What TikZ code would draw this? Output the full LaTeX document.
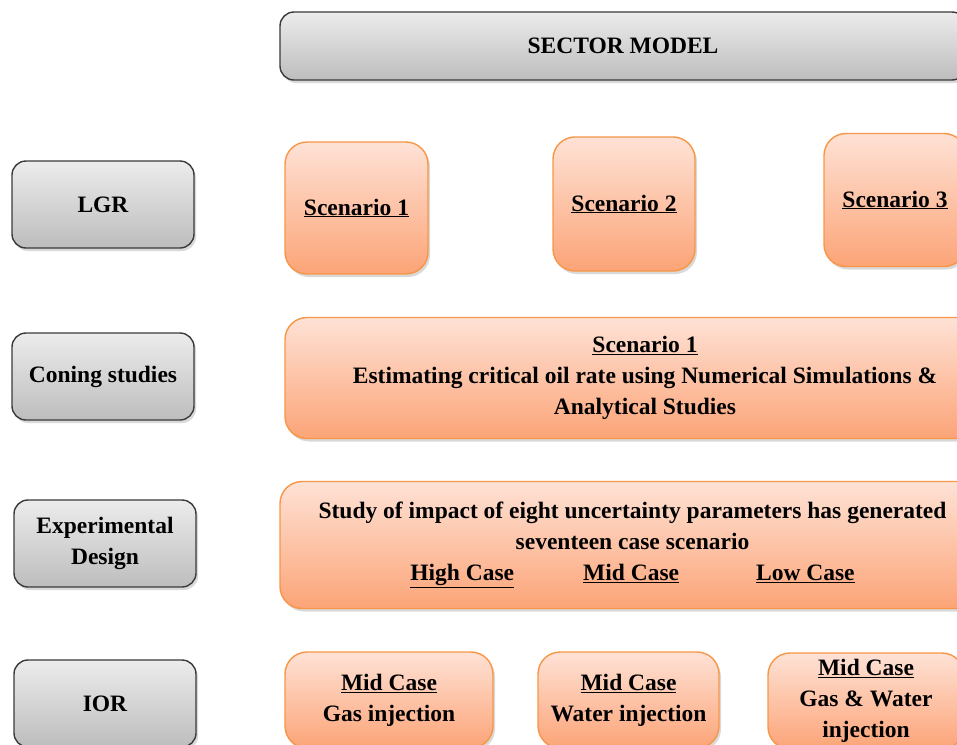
\documentclass[tikz,border=0pt]{standalone}
\usepackage{fontspec}
\setmainfont{Liberation Serif}
\usetikzlibrary{shadows}
\definecolor{grayborder}{HTML}{3A3A3A}
\definecolor{graytop}{HTML}{ECECEC}
\definecolor{graybot}{HTML}{BDBDBD}
\definecolor{orangeborder}{HTML}{F79646}
\definecolor{orangetop}{HTML}{FEE2D6}
\definecolor{orangebot}{HTML}{FCA477}
\tikzset{
  basebox/.style={rectangle, inner sep=0pt, align=center, text=black,
    font=\fontsize{23.5}{31}\selectfont\bfseries,
    drop shadow={opacity=0.3, shadow xshift=2pt, shadow yshift=-3pt}},
  graybox/.style={basebox, draw=grayborder, line width=1.4pt, rounded corners=14pt,
    top color=graytop, bottom color=graybot},
  orangebox/.style={basebox, draw=orangeborder, line width=1.4pt, rounded corners=22pt,
    top color=orangetop, bottom color=orangebot},
}
\begin{document}
\begin{tikzpicture}[x=1pt,y=-1pt]
\useasboundingbox (0,0) rectangle (957,744);
\clip (0,0) rectangle (957,744);
% left column
\node[graybox, minimum width=182pt, minimum height=87pt] (lgr) at (103,204.5) {LGR};
\node[graybox, minimum width=182pt, minimum height=87pt] (coning) at (103,376.5) {Coning studies};
\node[graybox, minimum width=182pt, minimum height=87pt] (expd) at (105,543.5) {Experimental\\Design};
\node[graybox, minimum width=182pt, minimum height=87pt] (ior) at (105,703.5) {IOR};
% top
\node[graybox, minimum width=686pt, minimum height=68pt] (sector) at (623,46) {SECTOR MODEL};
% LGR row
\node[orangebox, minimum width=143pt, minimum height=132pt] (s1) at (356.5,208) {\underline{Scenario 1}};
\node[orangebox, minimum width=142pt, minimum height=134pt] (s2) at (624,204) {\underline{Scenario 2}};
\node[orangebox, minimum width=142pt, minimum height=133pt] (s3) at (895,200) {\underline{Scenario 3}};
% coning row
\node[orangebox, minimum width=720pt, minimum height=121pt] (cs) at (645,378)
  {\underline{Scenario 1}\\Estimating critical oil rate using Numerical Simulations \&\\Analytical Studies};
% experimental design row
\node[orangebox, minimum width=705pt, minimum height=127pt] (ed) at (632.5,545)
  {Study of impact of eight uncertainty parameters has generated\\seventeen case scenario\\
   \underline{High Case}\hspace{69pt}\underline{Mid Case}\hspace{77pt}\underline{Low Case}};
% IOR row
\node[orangebox, minimum width=208pt, minimum height=96pt] (mg) at (389,700) {\underline{Mid Case}\\Gas injection};
\node[orangebox, minimum width=181pt, minimum height=96pt] (mw) at (628.5,700) {\underline{Mid Case}\\Water injection};
\node[orangebox, minimum width=196pt, minimum height=96pt] (mgw) at (866,701) {\underline{Mid Case}\\Gas \& Water\\injection};
\end{tikzpicture}
\end{document}
